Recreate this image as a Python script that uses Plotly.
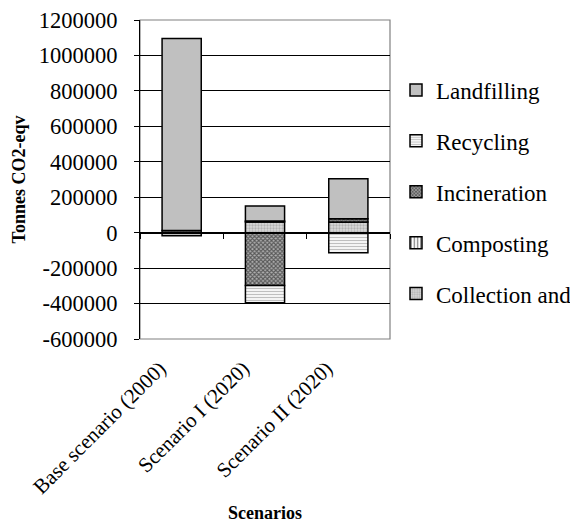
import plotly.graph_objects as go

categories = ["Base scenario (2000)", "Scenario I (2020)", "Scenario II (2020)"]

series_names = ["Collection and", "Composting", "Incineration", "Recycling", "Landfilling"]
collection = [12000, 60000, 60000]
composting = [0, 6000, 0]
incineration = [0, -298000, 18000]
recycling = [-18000, -98000, -113000]
landfilling = [1083000, 84000, 226000]

y_tickvals = [1200000, 1000000, 800000, 600000, 400000, 200000, 0,
              -200000, -400000, -600000]
y_ticktext = ["1200000", "1000000", "800000", "600000", "400000", "200000", "0",
              "-200000", "-400000", "-600000"]
y_range = [-600000, 1200000]

series_values = [collection, composting, incineration, recycling, landfilling]
patterns = [
    dict(shape=".", fgcolor="#8c8c8c", bgcolor="#d9d9d9", size=3, solidity=0.45),
    dict(shape="|", fgcolor="#000000", bgcolor="#ffffff", size=4, solidity=0.4),
    dict(shape="x", fgcolor="#000000", bgcolor="#b0b0b0", size=3, solidity=0.6),
    dict(shape="-", fgcolor="#808080", bgcolor="#ffffff", size=3, solidity=0.45),
    dict(shape="", fgcolor="#c0c0c0", bgcolor="#c0c0c0"),
]

FONT = "Liberation Serif"

fig = go.Figure()
n = len(series_names)
for i, (name, vals, pat) in enumerate(zip(series_names, series_values, patterns)):
    marker = dict(color="#c0c0c0", line=dict(color="#000000", width=1.5))
    if pat["shape"]:
        marker["pattern"] = pat
    fig.add_trace(go.Bar(
        x=categories, y=vals, name=name, legendgroup=f"g{i}", legendrank=n - i,
        marker=marker,
    ))

zero_frac = (0 - y_range[0]) / (y_range[1] - y_range[0])

fig.update_layout(
    width=570, height=523,
    barmode="relative",
    bargap=0.53,
    plot_bgcolor="#ffffff",
    paper_bgcolor="#ffffff",
    margin=dict(l=132, r=188, t=12, b=192, autoexpand=False),
    font=dict(family=FONT, size=21, color="#000000"),
    showlegend=True,
    legend=dict(
        x=1.024, xanchor="left", y=0.848, yanchor="top",
        traceorder="grouped", tracegroupgap=18,
        font=dict(family=FONT, size=23),
        bgcolor="rgba(0,0,0,0)",
        itemwidth=30,
    ),
    xaxis=dict(
        type="category", categoryorder="array", categoryarray=categories,
        tickangle=-45, ticks="", showline=False, showgrid=False, automargin=False,
        tickfont=dict(family=FONT, size=21),
        ticklabelshift=-22, ticklabelstandoff=12, ticklabeloverflow="allow",
        title=dict(text="<b>Scenarios</b>", font=dict(family=FONT, size=18), standoff=8),
    ),
    xaxis2=dict(
        type="category", categoryorder="array", categoryarray=categories,
        overlaying="x", matches="x", anchor="free", position=zero_frac,
        showline=True, linecolor="#000000", linewidth=1.2,
        ticks="outside", tickson="boundaries", ticklen=5, tickcolor="#000000",
        showticklabels=False, showgrid=False, automargin=False,
    ),
    yaxis=dict(
        range=y_range, tickvals=y_tickvals, ticktext=y_ticktext,
        showgrid=True, gridcolor="#000000", gridwidth=1,
        zeroline=False, automargin=False,
        showline=True, linecolor="#000000", linewidth=1.2,
        ticks="outside", ticklen=5, tickcolor="#000000",
        tickfont=dict(family=FONT, size=22.5),
        ticklabelstandoff=12, ticklabeloverflow="allow",
        title=dict(text="<b>Tonnes CO2-eqv</b>", font=dict(family=FONT, size=18), standoff=8),
    ),
)

# invisible helper so the overlaid zero axis has its categories
fig.add_trace(go.Scatter(x=categories, y=[0, 0, 0], xaxis="x2", mode="markers",
                         marker=dict(opacity=0), showlegend=False, hoverinfo="skip"))

# grey plot-area frame
fig.add_shape(type="rect", xref="paper", yref="paper", x0=0, x1=1, y0=0, y1=1,
              line=dict(color="#808080", width=1.2), layer="below")

fig.write_html("out.html")
